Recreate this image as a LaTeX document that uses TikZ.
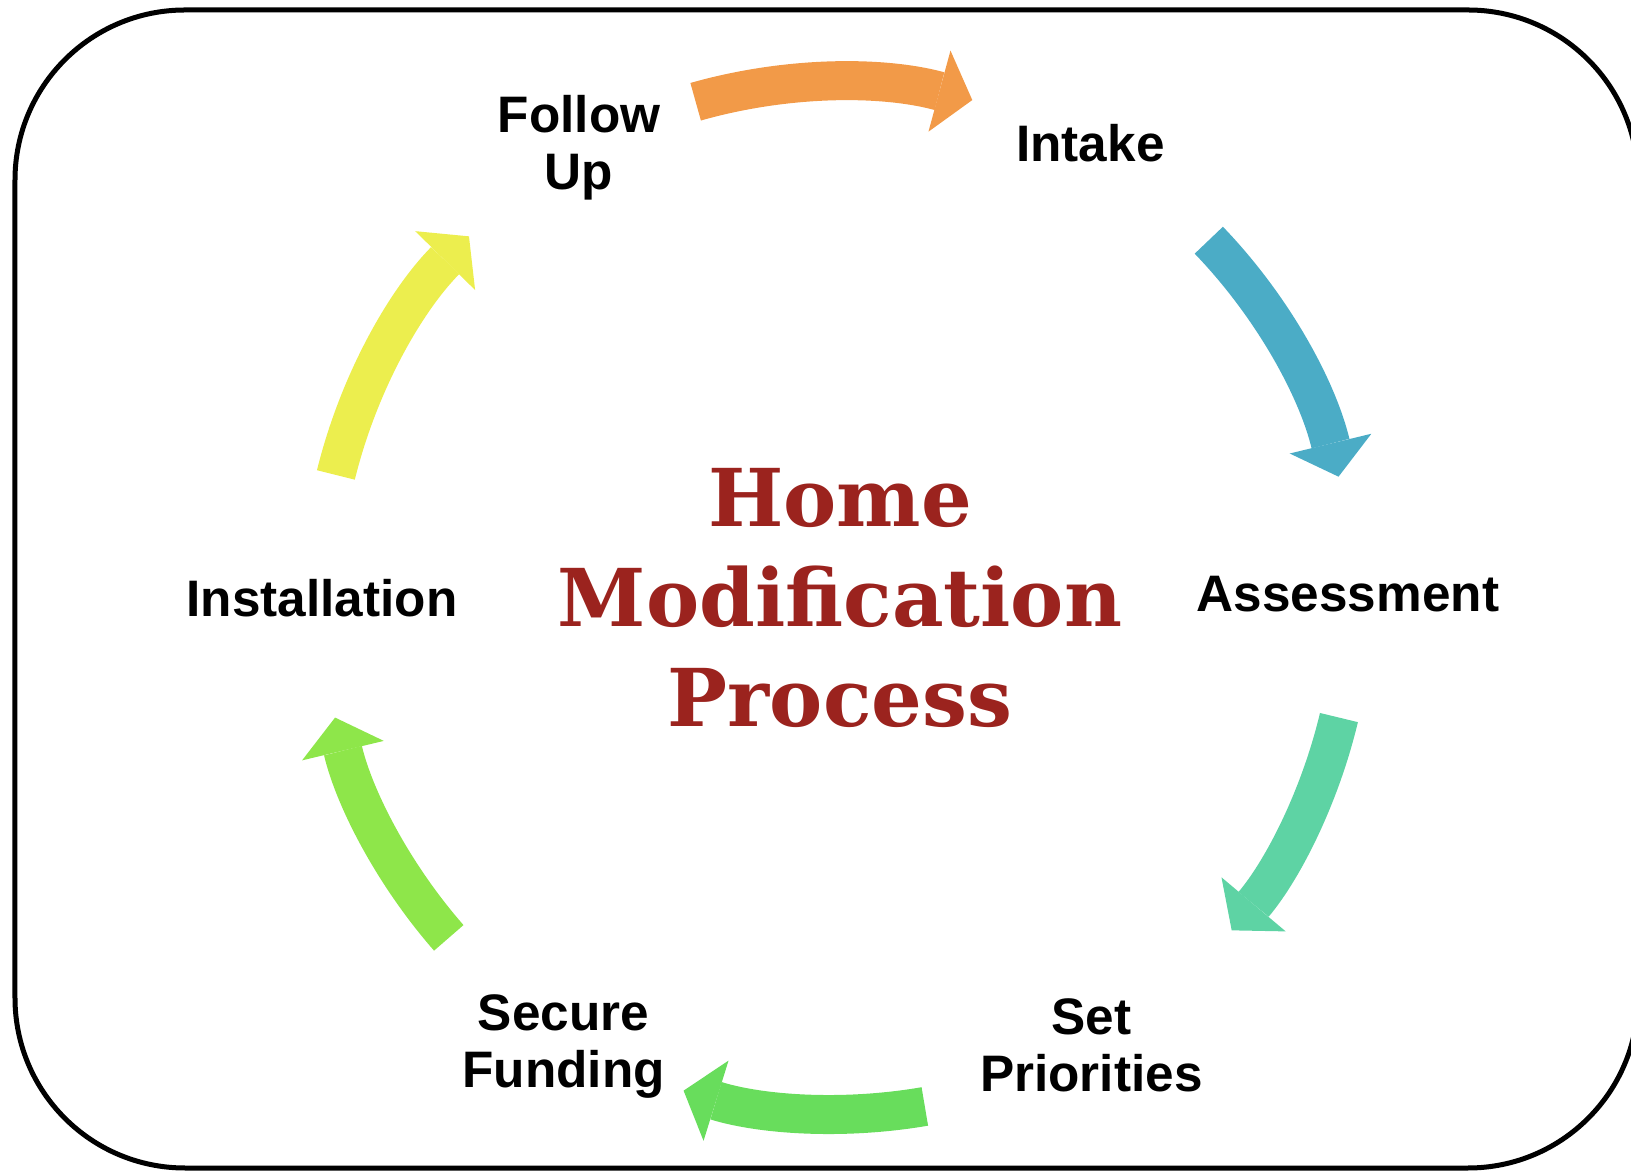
\documentclass[tikz,border=0pt]{standalone}
\usepackage{fontspec}
\setmainfont{Liberation Sans}
\newfontfamily\titlefont{DejaVu Serif}
\usetikzlibrary{arrows.meta}

\definecolor{followorange}{HTML}{F29A48}
\definecolor{intakeblue}{HTML}{4BACC6}
\definecolor{assessteal}{HTML}{5ED3A4}
\definecolor{prioritygreen}{HTML}{68DD5C}
\definecolor{fundinglime}{HTML}{8EE64A}
\definecolor{installyellow}{HTML}{ECEE4E}
\definecolor{titlered}{HTML}{9B231E}

\begin{document}
\begin{tikzpicture}[
        stage/.style={font=\bfseries\fontsize{14.6}{16.2}\selectfont, align=center, inner sep=0pt},
        centretext/.style={font=\titlefont\bfseries\fontsize{22.7}{28.4}\selectfont, text=titlered, align=center, inner sep=0pt},
        cyc/.style={line width=0.39cm, -{Triangle[width=0.84cm,length=0.34cm,line width=0pt]}}]
        \useasboundingbox (0,0) rectangle (16.31,11.72);
        \clip (0,0) rectangle (16.31,11.72);

        \draw[black, line width=0.05cm, rounded corners=1.7cm] (0.15,0.04) rectangle (16.38,11.62);

        \coordinate (c) at (8.37,5.74);
        \node[centretext] (process) at ([xshift=0.03cm]c) {Home\\Modification\\Process};

        \begin{scope}[shift={(c)}]
        \node[stage] (followup) at (119.8:5.19) {Follow\\Up};
        \node[stage] (intake) at (60.9:5.21) {Intake};
        \node[stage] (assessment) at (0.4:5.11) {Assessment};
        \node[stage] (priorities) at (-60.4:5.15) {Set\\Priorities};
        \node[stage] (funding) at (-121.4:5.25) {Secure\\Funding};
        \node[stage] (installation) at (180:5.15) {Installation};

        \draw[cyc, followorange] (105.9:5.16) arc[start angle=105.9, end angle=74.8, radius=5.16];
        \draw[cyc, intakeblue] (43.9:5.16) arc[start angle=43.9, end angle=13.6, radius=5.16];
        \draw[cyc, assessteal] (-13.4:5.16) arc[start angle=-13.4, end angle=-40.1, radius=5.16];
        \draw[cyc, prioritygreen] (-80.2:5.16) arc[start angle=-80.2, end angle=-107.3, radius=5.16];
        \draw[cyc, fundinglime] (-138.8:5.16) arc[start angle=-138.8, end angle=-166.6, radius=5.16];
        \draw[cyc, installyellow] (166.2:5.16) arc[start angle=166.2, end angle=135.5, radius=5.16];
        \end{scope}
    \end{tikzpicture}
\end{document}
